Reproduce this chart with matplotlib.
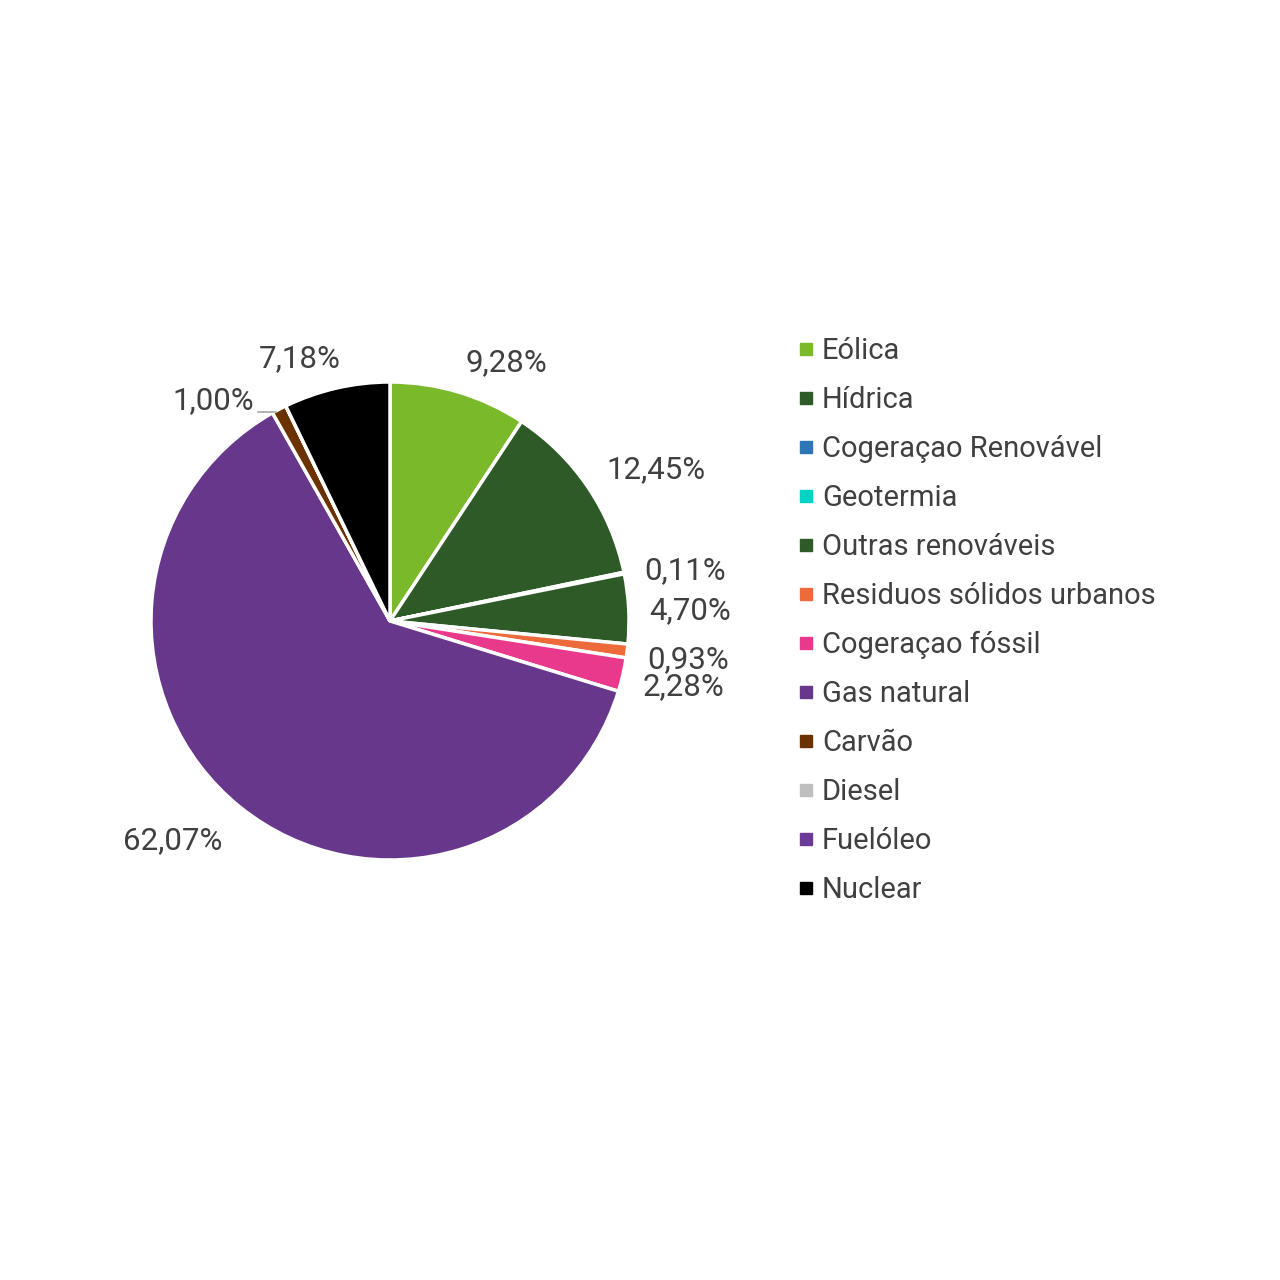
import matplotlib
matplotlib.use("Agg")
import matplotlib.pyplot as plt
from matplotlib.lines import Line2D

plt.rcParams['font.family'] = ['Roboto', 'DejaVu Sans']

# Share of each source in electricity generation (%)
sources = ["Eólica", "Hídrica", "Cogeraçao Renovável", "Geotermia",
           "Outras renováveis", "Residuos sólidos urbanos", "Cogeraçao fóssil",
           "Gas natural", "Carvão", "Diesel", "Fuelóleo", "Nuclear"]
shares = [9.28, 12.45, 0.11, 0.0, 4.70, 0.93, 2.28, 62.07, 1.00, 0.0, 0.0, 7.18]
colors = ["#7ab929", "#2e5a27", "#2e75b6", "#00d2c3", "#2e5a27", "#ed6a3a",
          "#e8398c", "#67378b", "#6b3200", "#bfbfbf", "#6b3a96", "#000000"]

# where each value label sits, in units of the pie radius
label_pos = {
    0: (0.487, 1.080),
    1: (1.113, 0.635),
    2: (1.234, 0.212),
    4: (1.256, 0.045),
    5: (1.247, -0.160),
    6: (1.230, -0.275),
    7: (-0.908, -0.917),
    8: (-0.741, 0.921),
    11: (-0.376, 1.097),
}

TEXT = "#404040"

fig = plt.figure(figsize=(12.8, 12.8), dpi=100)
cx, cy, r = 390, 621, 239
ax = fig.add_axes([(cx - r) / 1280, (1280 - cy - r) / 1280, 2 * r / 1280, 2 * r / 1280])

wedges, _ = ax.pie(shares, colors=colors, startangle=90, counterclock=False,
                   radius=1.0, wedgeprops=dict(edgecolor="white", linewidth=2.5))
ax.set_xlim(-1, 1)
ax.set_ylim(-1, 1)
ax.set_aspect("equal")
ax.axis("off")

for i, (x, y) in label_pos.items():
    txt = f"{shares[i]:.2f}%".replace(".", ",")
    ax.text(x, y, txt, ha="center", va="center", fontsize=22.5, color=TEXT, clip_on=False)

# leader line for the small coal slice
ax.plot([-0.552, -0.478], [0.875, 0.875], color="#a6a6a6", lw=1.2, clip_on=False)

handles = [Line2D([0], [0], marker="s", linestyle="", markersize=9,
                  markerfacecolor=c, markeredgecolor=c) for c in colors]
fig.legend(handles, sources, loc="upper left", bbox_to_anchor=(797 / 1280, 1 - 337 / 1280),
           frameon=False, fontsize=21, labelcolor=TEXT, handlelength=0.6,
           handletextpad=0.25, labelspacing=0.72, borderaxespad=0, borderpad=0)

fig.savefig("out.png", dpi=100, facecolor="white")
